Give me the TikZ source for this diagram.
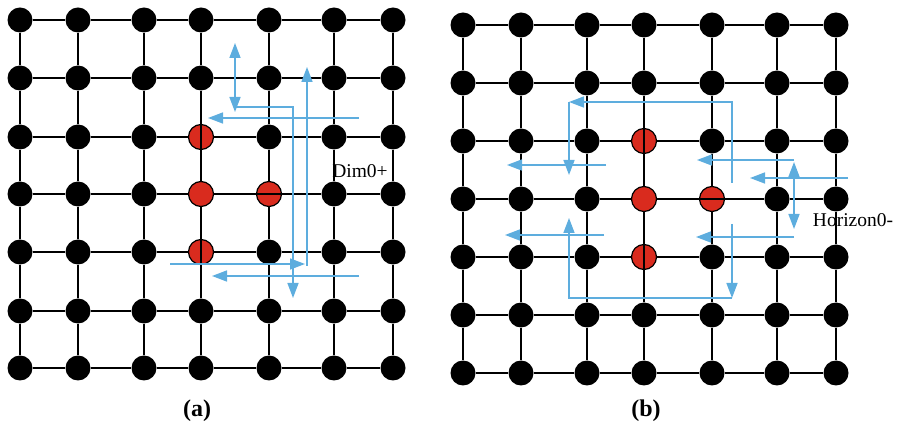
\documentclass[tikz,border=0pt]{standalone}
\usepackage{fontspec}
\setmainfont{Liberation Serif}
\usetikzlibrary{arrows.meta}

\definecolor{hotred}{RGB}{217,43,30}
\definecolor{route}{RGB}{93,173,222}

\tikzset{
  knot/.style={circle, fill=black, minimum size=25pt, inner sep=0pt},
  hot/.style={knot, fill=hotred, draw=black, line width=1.2pt},
  wire/.style={line width=1.6pt, black},
  hop/.style={route, line width=1.5pt, -{Triangle[length=15pt,width=11pt]}},
  hophop/.style={route, line width=1.5pt, {Triangle[length=15pt,width=11pt]}-{Triangle[length=15pt,width=11pt]}},
  tag/.style={font=\fontsize{19.5}{22}\selectfont, inner sep=0pt},
  caption/.style={font=\fontsize{24}{28}\selectfont\bfseries, inner sep=0pt}
}

\begin{document}
\begin{tikzpicture}[x=1pt, y=-1pt]
\useasboundingbox (0,0) rectangle (897,427);

%% maillage 7x7 : #1 prefixe, #2 abscisses, #3 ordonnees
\def\mesh#1#2#3{
  \foreach \x [count=\i] in {#2}
    \foreach \y [count=\j] in {#3} {
      \pgfmathtruncatemacro\hotq{(\i==4 && \j>=3 && \j<=5) || (\i==5 && \j==4)}
      \ifnum\hotq=1 \def\sty{hot}\else\def\sty{knot}\fi
      \node[\sty] (#1-\i-\j) at (\x,\y) {};
    }
  \foreach \i in {1,2,3,4,5,6,7}
    \foreach \j in {1,2,3,4,5,6} {
      \pgfmathtruncatemacro\nxt{\j+1}
      \draw[wire] (#1-\i-\j) -- (#1-\i-\nxt);
      \draw[wire] (#1-\j-\i) -- (#1-\nxt-\i);
    }
  %% liens qui traversent les noeuds rouges
  \draw[wire] (#1-4-3.north) -- (#1-4-3.south);
  \draw[wire] (#1-4-5.north) -- (#1-4-5.south);
  \draw[wire] (#1-5-4.west) -- (#1-5-4.east);
}

\mesh{L}{20,78,144,201,269,334,393}{20,78,137,194,252,311,368}
\mesh{R}{463,521,587,644,712,777,836}{25,83,141,199,257,315,373}

%% routes (a)
\draw[hophop] (235,43) -- (235,112);
\draw[hop] (235,107) -- (293,107) -- (293,298);
\draw[hop] (359,118) -- (208,118);
\draw[hop] (170,264) -- (305,264);
\draw[hop] (307,266) -- (307,67);
\draw[hop] (359,276) -- (212,276);
\node[tag] (dim) at (360,171) {Dim0+};

%% routes (b)
\draw[hop] (732,183) -- (732,102) -- (569,102);
\draw[hop] (569,102) -- (569,175);
\draw[hop] (732,224) -- (732,298);
\draw[hop] (732,298) -- (569,298) -- (569,218);
\draw[hop] (606,165) -- (507,165);
\draw[hop] (604,235) -- (505,235);
\draw[hop] (794,160) -- (697,160);
\draw[hophop] (794,162) -- (794,229);
\draw[hop] (848,178) -- (750,178);
\draw[hop] (794,237) -- (696,237);
\node[tag] (horizon) at (853,220) {Horizon0-};

%% legendes
\node[caption] (capa) at (197,411) {(a)};
\node[caption] (capb) at (646,411) {(b)};

\end{tikzpicture}
\end{document}
